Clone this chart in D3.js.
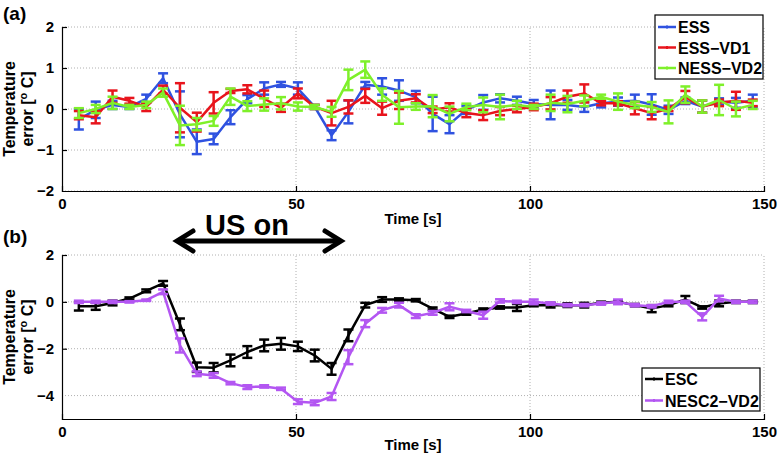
<!DOCTYPE html>
<html><head><meta charset="utf-8">
<script src="https://cdn.jsdelivr.net/npm/d3@7"></script>
<style>
html,body{margin:0;padding:0;background:#fff;}
svg text{font-family:"Liberation Sans",Arial,Helvetica,sans-serif;font-weight:bold;fill:#000;}
</style></head>
<body><svg id="c" width="780" height="454"></svg>
<script>
// ---- data ----
const times = [3.6,7.2,10.8,14.4,18,21.6,25.2,28.8,32.4,36,39.6,43.2,46.8,50.4,54,57.6,61.2,64.8,68.4,72,75.6,79.2,82.8,86.4,90,93.6,97.2,100.8,104.4,108,111.6,115.2,118.8,122.4,126,129.6,133.2,136.8,140.4,144,147.6];

const essMean = [-0.25,-0.02,0.1,0.05,0.25,0.75,-0.13,-0.8,-0.73,-0.2,0.24,0.5,0.6,0.5,0.05,-0.64,-0.07,0.59,0.55,0.45,0.29,-0.12,-0.37,-0.02,0.16,0.26,0.2,0.12,0.1,0.1,0.05,0.14,0.18,0.2,0.11,-0.02,0.2,0.06,0.18,0.15,0.2];
const essErr  = [0.25,0.2,0.1,0.05,0.1,0.12,0.56,0.3,0.13,0.17,0.1,0.15,0.06,0.15,0.05,0.12,0.28,0.07,0.2,0.25,0.15,0.42,0.22,0.1,0.18,0.1,0.1,0.1,0.35,0.12,0.12,0.1,0.1,0.15,0.25,0.1,0.08,0.15,0.08,0.12,0.15];

const essVd1Mean = [-0.15,-0.2,0.3,0.2,0.05,0.47,0.03,-0.32,0.15,0.44,0.48,0.25,0.03,0.38,0.05,-0.1,0.05,0.32,0.02,0.2,0.26,-0.02,0.04,-0.1,-0.15,-0.05,0,0.05,0.14,0.3,0.38,0.14,0.14,0.02,-0.1,0,0.29,0.06,0.15,0.2,0.15];
const essVd1Err  = [0.1,0.15,0.15,0.07,0.1,0.1,0.6,0.23,0.26,0.05,0.1,0.2,0.1,0.12,0.05,0.3,0.16,0.17,0.16,0.2,0.1,0.08,0.1,0.1,0.12,0.1,0.08,0.08,0.15,0.15,0.22,0.05,0.05,0.15,0.15,0.05,0.15,0.15,0.08,0.22,0.08];

const nessVd2Mean = [-0.1,0,0.15,0.05,0.1,0.4,-0.4,-0.37,-0.29,0.3,0.07,0.11,0.14,0.06,0.05,-0.07,0.71,0.96,0.35,0.04,0.06,0.07,-0.12,0.05,0.1,0.05,0.1,0.05,0.15,0.12,0.2,0.3,0.18,0.1,0.05,-0.07,0.35,0.06,0.22,0,0.1];
const nessVd2Err  = [0.12,0.1,0.15,0.05,0.08,0.1,0.48,0.15,0.12,0.2,0.12,0.15,0.15,0.1,0.05,0.12,0.25,0.2,0.15,0.4,0.08,0.27,0.18,0.08,0.18,0.3,0.1,0.05,0.2,0.2,0.13,0.05,0.2,0.08,0.12,0.28,0.2,0.15,0.37,0.18,0.1];

const escMean = [-0.19,-0.19,-0.05,0.14,0.47,0.79,-0.96,-2.79,-2.81,-2.5,-2.14,-1.86,-1.79,-1.9,-2.29,-2.86,-1.43,-0.14,0.1,0.1,0.07,-0.29,-0.64,-0.5,-0.33,-0.24,-0.24,-0.14,-0.14,-0.14,-0.14,-0.04,0,-0.14,-0.29,-0.14,0.1,-0.24,-0.07,0,0];
const escErr  = [0.18,0.15,0.1,0.05,0.06,0.1,0.25,0.2,0.2,0.25,0.25,0.25,0.25,0.2,0.25,0.25,0.25,0.1,0.1,0.05,0.05,0.05,0.05,0.05,0.05,0.05,0.15,0.05,0.1,0.08,0.1,0.05,0.05,0.05,0.15,0.05,0.15,0.05,0.12,0.05,0.05];

const nesc2Mean = [0,0,0,0,0.07,0.43,-1.86,-3.07,-3.14,-3.47,-3.64,-3.61,-3.71,-4.26,-4.31,-4.04,-2.36,-0.93,-0.36,-0.14,-0.61,-0.47,-0.21,-0.39,-0.57,0.04,0,0,-0.07,-0.14,-0.14,-0.07,0,-0.14,-0.19,0,0,-0.64,0.14,0,0];
const nesc2Err  = [0.05,0.05,0.05,0.03,0.03,0.1,0.3,0.1,0.1,0.05,0.08,0.05,0.05,0.1,0.1,0.15,0.3,0.15,0.1,0.1,0.08,0.08,0.15,0.05,0.15,0.07,0.05,0.1,0.05,0.05,0.05,0.05,0.1,0.05,0.05,0.05,0.05,0.15,0.12,0.05,0.05];

const xTicks = [0,50,100,150];
const yTicksTop = [-2,-1,0,1,2];
const yTicksBot = [-4,-2,0,2];

const seriesTop = [
  {name:"ESS", mean:essMean, err:essErr, color:"#2f52e0"},
  {name:"ESS\u2212VD1", mean:essVd1Mean, err:essVd1Err, color:"#e8141c"},
  {name:"NESS\u2212VD2", mean:nessVd2Mean, err:nessVd2Err, color:"#7ef02a"}
];
const seriesBot = [
  {name:"ESC", mean:escMean, err:escErr, color:"#000000"},
  {name:"NESC2\u2212VD2", mean:nesc2Mean, err:nesc2Err, color:"#b356f2"}
];

// ---- drawing ----
const svg = d3.select("#c");
const x = d3.scaleLinear().domain([0,150]).range([62,764]);

function panel(opts){
  const {y, yTicks, series, timeY, labelY, letterY, letter, legend} = opts;
  const g = svg.append("g");
  g.selectAll(".gy").data(yTicks).join("line")
    .attr("x1", x(0)).attr("x2", x(150)).attr("y1", d=>y(d)).attr("y2", d=>y(d))
    .attr("stroke","#b0b0b0").attr("stroke-width",1).attr("stroke-dasharray","1,2");
  g.selectAll(".gx").data(xTicks.slice(1)).join("line")
    .attr("x1", d=>x(d)).attr("x2", d=>x(d)).attr("y1", y.range()[0]).attr("y2", y.range()[1])
    .attr("stroke","#b0b0b0").attr("stroke-width",1).attr("stroke-dasharray","1,2");
  const ya = d3.axisLeft(y).tickValues(yTicks).tickSize(-5).tickPadding(8)
    .tickFormat(d=> d<0 ? "\u2212"+Math.abs(d) : String(d));
  const yg = g.append("g").attr("transform",`translate(${x(0)},0)`).call(ya);
  const xa = d3.axisBottom(x).tickValues(xTicks).tickSize(-5).tickPadding(7).tickFormat(d3.format("d"));
  const xg = g.append("g").attr("transform",`translate(0,${y.range()[0]})`).call(xa);
  [yg,xg].forEach(a=>{
    a.select(".domain").attr("stroke","#000").attr("stroke-width",1.2);
    a.selectAll(".tick line").attr("stroke","#000").attr("stroke-width",1.2);
    a.selectAll(".tick text").style("font-size","15px").style("font-weight","bold")
      .style("font-family","'Liberation Sans',Arial,sans-serif").attr("fill","#000");
  });
  xg.selectAll(".tick line").filter(d=>d===0||d===150).remove();
  yg.selectAll(".tick line").filter(d=>d===yTicks[0]).remove();

  series.forEach(s=>{
    const pts = times.map((t,i)=>({t, m:s.mean[i], e:s.err[i]}));
    const sg = g.append("g");
    sg.append("path").datum(pts)
      .attr("d", d3.line().x(d=>x(d.t)).y(d=>y(d.m)))
      .attr("fill","none").attr("stroke",s.color).attr("stroke-width",2.5).attr("stroke-linejoin","round");
    const eb = sg.selectAll(".eb").data(pts).join("g");
    eb.append("line").attr("x1",d=>x(d.t)).attr("x2",d=>x(d.t))
      .attr("y1",d=>y(d.m-d.e)).attr("y2",d=>y(d.m+d.e)).attr("stroke",s.color).attr("stroke-width",2.5);
    [1,-1].forEach(sg2=>{
      eb.append("line").attr("x1",d=>x(d.t)-5).attr("x2",d=>x(d.t)+5)
        .attr("y1",d=>y(d.m+sg2*d.e)).attr("y2",d=>y(d.m+sg2*d.e))
        .attr("stroke",s.color).attr("stroke-width",2.5);
    });
  });

  g.append("text").attr("x",(x(0)+x(150))/2).attr("y",timeY).attr("text-anchor","middle")
    .style("font-size","15px").text("Time [s]");
  const lab = g.append("text").attr("transform",`translate(0,${labelY}) rotate(-90)`)
    .attr("text-anchor","middle").style("font-size","16px");
  lab.append("tspan").attr("x",0).attr("y",15).text("Temperature");
  lab.append("tspan").attr("x",0).attr("y",33).text("error [");
  lab.append("tspan").attr("dy",-6).style("font-size","11px").text("o");
  lab.append("tspan").attr("dy",6).text(" C]");
  g.append("text").attr("x",3).attr("y",letterY).style("font-size","19px").text(letter);

  const lg = g.append("g");
  lg.append("rect").attr("x",legend.x).attr("y",legend.y).attr("width",legend.w).attr("height",legend.h)
    .attr("fill","#fff").attr("stroke","#000").attr("stroke-width",1.2);
  series.forEach((s,i)=>{
    const yy = legend.y + legend.first + i*legend.step;
    lg.append("line").attr("x1",legend.x+3).attr("x2",legend.x+21).attr("y1",yy).attr("y2",yy)
      .attr("stroke",s.color).attr("stroke-width",2.5);
    lg.append("line").attr("x1",legend.x+12).attr("x2",legend.x+12).attr("y1",yy-1.5).attr("y2",yy+1.5)
      .attr("stroke",s.color).attr("stroke-width",2);
    lg.append("text").attr("x",legend.x+23).attr("y",yy+6).style("font-size","16px").text(s.name);
  });
}

const yTop = d3.scaleLinear().domain([-2,2]).range([191,27]);
const yBot = d3.scaleLinear().domain([-5,2]).range([419,255]);

panel({y:yTop, yTicks:yTicksTop, series:seriesTop, timeY:224, labelY:109, letterY:20, letter:"(a)",
  legend:{x:655,y:15,w:108,h:64,first:12,step:20.5}});
panel({y:yBot, yTicks:yTicksBot, series:seriesBot, timeY:450, labelY:337, letterY:243, letter:"(b)",
  legend:{x:642,y:368,w:118,h:43,first:11,step:21.5}});

svg.append("text").attr("x",247).attr("y",235).attr("text-anchor","middle")
  .style("font-size","29px").text("US on");
const ay = 241, ax1 = 175, ax2 = 343;
svg.append("line").attr("x1",ax1+2).attr("x2",ax2-2).attr("y1",ay).attr("y2",ay)
  .attr("stroke","#000").attr("stroke-width",5);
svg.append("path").attr("d",`M${ax1+18},${ay-10} L${ax1+2},${ay} L${ax1+18},${ay+10}`)
  .attr("fill","none").attr("stroke","#000").attr("stroke-width",5).attr("stroke-linecap","round");
svg.append("path").attr("d",`M${ax2-18},${ay-10} L${ax2-2},${ay} L${ax2-18},${ay+10}`)
  .attr("fill","none").attr("stroke","#000").attr("stroke-width",5).attr("stroke-linecap","round");
</script></body></html>
